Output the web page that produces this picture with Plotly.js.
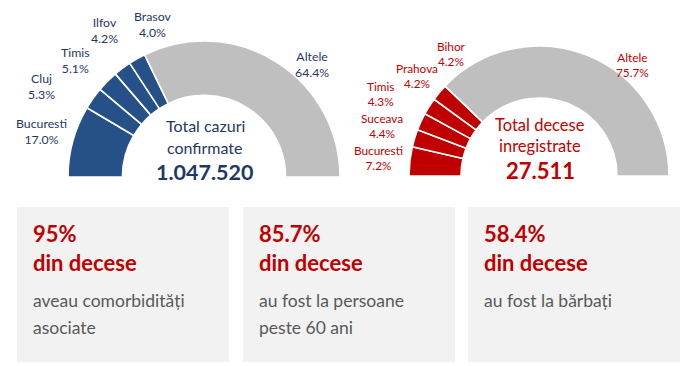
<!DOCTYPE html>
<html>
<head>
<meta charset="utf-8">
<script src="https://cdn.plot.ly/plotly-3.0.1.min.js"></script>
<style>
html,body{margin:0;padding:0;background:#fff;}
#chart{width:697px;height:366px;}
</style>
</head>
<body>
<div id="chart"></div>
<script>
// ---- data ----
var casesRegions = ['Bucuresti', 'Cluj', 'Timis', 'Ilfov', 'Brasov', 'Altele'];
var casesShares = [17.0, 5.3, 5.1, 4.2, 4.0, 64.4];
var casesTotalTitle = ['Total cazuri', 'confirmate'];
var casesTotal = '1.047.520';

var deathsRegions = ['Bucuresti', 'Suceava', 'Timis', 'Prahova', 'Bihor', 'Altele'];
var deathsShares = [7.2, 4.4, 4.3, 4.2, 4.2, 75.7];
var deathsTotalTitle = ['Total decese', 'inregistrate'];
var deathsTotal = '27.511';

var boxPercents = ['95%', '85.7%', '58.4%'];
var boxHeadline = 'din decese';
var boxLines = [
  ['aveau comorbidități', 'asociate'],
  ['au fost la persoane', 'peste 60 ani'],
  ['au fost la bărbați']
];

// ---- layout helpers (pixel -> paper) ----
var W = 697, H = 366;
function px(x) { return x / W; }
function py(y) { return 1 - y / H; }

var NAVY = '#1F3864', BLUE = '#265088', GRAY = '#BFBFBF', RED = '#C00000';
var FONT = 'Lato, "Open Sans", sans-serif';

function halfDonut(labels, values, color, cx, cy, r) {
  var total = values.reduce(function (a, b) { return a + b; }, 0);
  var cols = values.map(function (v, i) { return i === values.length - 1 ? GRAY : color; });
  cols.push('rgba(0,0,0,0)');
  var widths = values.map(function () { return 1.6; });
  widths.push(0);
  return {
    type: 'pie',
    labels: labels.concat(['']),
    values: values.concat([total]),
    sort: false,
    direction: 'clockwise',
    rotation: -90,
    hole: 0.6,
    textinfo: 'none',
    hoverinfo: 'skip',
    showlegend: false,
    marker: { colors: cols, line: { color: '#ffffff', width: widths } },
    domain: { x: [px(cx - r), px(cx + r)], y: [py(cy + r), py(cy - r)] }
  };
}

var traces = [
  halfDonut(casesRegions, casesShares, BLUE, 204, 177, 136),
  halfDonut(deathsRegions, deathsShares, RED, 539, 176, 130)
];

var annotations = [];
function addText(text, x, y, size, color, bold, anchor) {
  annotations.push({
    text: bold ? '<b>' + text + '</b>' : text,
    x: px(x), y: py(y), xref: 'paper', yref: 'paper',
    xanchor: anchor || 'center', yanchor: 'middle',
    showarrow: false,
    font: { family: FONT, size: size, color: color }
  });
}

// slice labels (positions)
var casesLabelPos = [[41, 132], [41, 86], [75, 61], [104, 31], [152, 25], [312, 65]];
var deathsLabelPos = [[379, 158], [382, 126], [380, 94], [417, 76], [452, 54], [632, 65]];
casesRegions.forEach(function (name, i) {
  addText(name + '<br>' + casesShares[i].toFixed(1) + '%', casesLabelPos[i][0], casesLabelPos[i][1], 12.3, NAVY, false);
});
deathsRegions.forEach(function (name, i) {
  addText(name + '<br>' + deathsShares[i].toFixed(1) + '%', deathsLabelPos[i][0], deathsLabelPos[i][1], 11.8, RED, false);
});

// center texts
addText(casesTotalTitle[0], 205, 126, 16, NAVY, false);
addText(casesTotalTitle[1], 205, 147, 16, NAVY, false);
addText(casesTotal, 205, 172, 21.5, NAVY, true);
addText(deathsTotalTitle[0], 540, 125, 16.5, RED, false);
addText(deathsTotalTitle[1], 540, 146, 16.5, RED, false);
addText(deathsTotal, 540, 170, 22, RED, true);

// boxes
var boxLeft = [17, 243, 468], boxWidth = 212;
var shapes = boxLeft.map(function (x0) {
  return { type: 'rect', xref: 'paper', yref: 'paper',
    x0: px(x0), x1: px(x0 + boxWidth), y0: py(362), y1: py(207),
    fillcolor: '#F2F2F2', line: { width: 0 }, layer: 'below' };
});
boxPercents.forEach(function (p, i) {
  var x = boxLeft[i] + 14;
  addText(p, x, 233, 22, RED, true, 'left');
  addText(boxHeadline, x, 262, 22, RED, true, 'left');
  boxLines[i].forEach(function (line, j) {
    addText(line, x, 300 + j * 27, 17.5, '#595959', false, 'left');
  });
});

var layout = {
  width: W, height: H,
  margin: { l: 0, r: 0, t: 0, b: 0 },
  paper_bgcolor: '#ffffff', plot_bgcolor: '#ffffff',
  showlegend: false,
  shapes: shapes,
  annotations: annotations
};

Plotly.newPlot('chart', traces, layout, { displayModeBar: false, staticPlot: true });
</script>
</body>
</html>
